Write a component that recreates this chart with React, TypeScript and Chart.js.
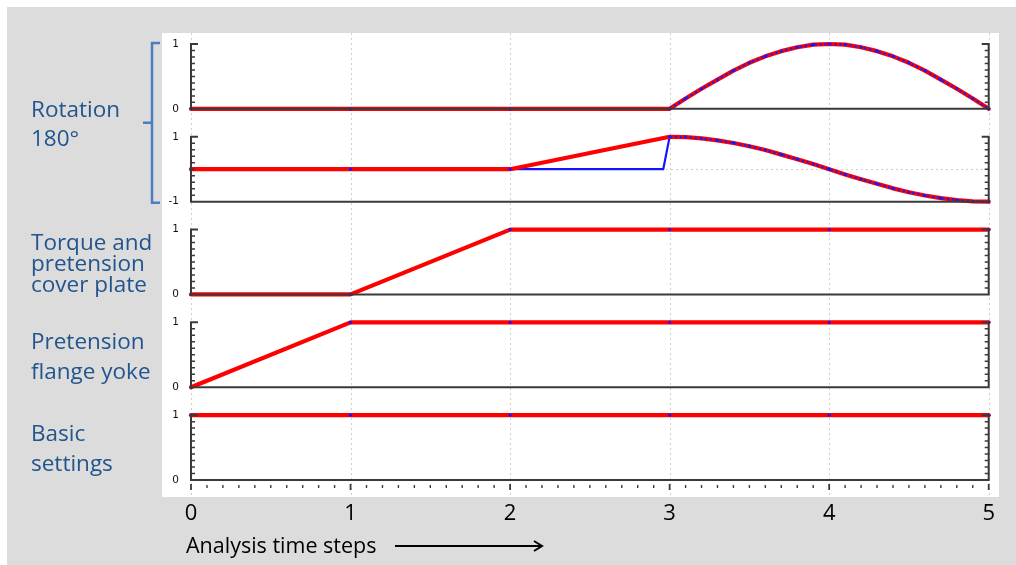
import React, { useEffect, useRef } from "react";
import { Chart, registerables } from "chart.js";

Chart.register(...registerables);

// ---------------- data ----------------
const TIME_TICKS = [0, 1, 2, 3, 4, 5];
const STEP_TIME = [0, 1, 2, 3, 4, 5];
const CURVE_TIME = [3.0, 3.1, 3.2, 3.3, 3.4, 3.5, 3.6, 3.7, 3.8, 3.9, 4.0, 4.1, 4.2, 4.3, 4.4, 4.5, 4.6, 4.7, 4.8, 4.9, 5.0];
const ROTATION_A_CURVE = [0, 0.16, 0.31, 0.45, 0.59, 0.71, 0.81, 0.89, 0.95, 0.99, 1.0, 0.99, 0.95, 0.89, 0.81, 0.71, 0.59, 0.45, 0.31, 0.16, 0];
const ROTATION_B_CURVE = [1.0, 0.99, 0.95, 0.89, 0.81, 0.71, 0.59, 0.45, 0.31, 0.16, 0, -0.16, -0.31, -0.45, -0.59, -0.71, -0.81, -0.89, -0.95, -0.99, -1.0];
const ROTATION_A_LEAD_TIME = [0, 1, 2];
const ROTATION_A_LEAD = [0, 0, 0];
const ROTATION_B_RED_LEAD_TIME = [0, 1, 2];
const ROTATION_B_RED_LEAD = [0, 0, 0];
const ROTATION_B_BLUE_LEAD_TIME = [0, 1, 2, 2.96];
const ROTATION_B_BLUE_LEAD = [0, 0, 0, 0];
const TORQUE_COVER_PLATE = [0, 0, 1, 1, 1, 1];
const PRETENSION_FLANGE_YOKE = [0, 1, 1, 1, 1, 1];
const BASIC_SETTINGS = [1, 1, 1, 1, 1, 1];
const PANEL_RANGES = [
  [0, 1],
  [-1, 1],
  [0, 1],
  [0, 1],
  [0, 1],
];
const GROUP_LABELS = [
  ["Rotation", "180°"],
  ["Torque and", "pretension", "cover plate"],
  ["Pretension", "flange yoke"],
  ["Basic", "settings"],
];
const X_TITLE = "Analysis time steps";

// ---------------- helpers ----------------
const zip = (xs: number[], ys: number[]) => xs.map((x, i) => ({ x, y: ys[i] }));
const PANEL_IDS = ["y1", "y2", "y3", "y4", "y5"];
const GAP = 28 / 65;
const RED = "#ff0000";
const BLUE = "#1414ff";
const AXIS = "#3a3a3a";

function redLine(yAxisID: string, data: any[]) {
  return {
    data,
    yAxisID,
    borderColor: RED,
    borderWidth: 4.2,
    pointRadius: 1.6,
    pointBackgroundColor: BLUE,
    pointBorderWidth: 0,
    borderCapStyle: "round",
    borderJoinStyle: "round",
    tension: 0,
    clip: false,
    order: 20,
  };
}
function blueLine(yAxisID: string, data: any[]) {
  return {
    data,
    yAxisID,
    borderColor: BLUE,
    borderWidth: 2.2,
    pointRadius: 0,
    tension: 0,
    clip: false,
    order: 30,
  };
}
function blueDots(yAxisID: string, data: any[]) {
  return {
    data,
    yAxisID,
    borderColor: "#2020e8",
    borderWidth: 2.2,
    borderDash: [2.5, 2.5],
    pointRadius: 0,
    tension: 0,
    clip: false,
    order: 10,
  };
}

const framePlugin = {
  id: "frames",
  beforeDraw(chart: any) {
    const ctx = chart.ctx;
    const xs = chart.scales.x;
    ctx.save();
    ctx.fillStyle = "#ffffff";
    ctx.fillRect(154, 25, 837, 464);
    // vertical dotted grid lines
    ctx.strokeStyle = "#cfcfcf";
    ctx.lineWidth = 1;
    ctx.setLineDash([2, 3]);
    TIME_TICKS.forEach((t) => {
      const px = Math.round(xs.getPixelForValue(t)) + 0.5;
      ctx.beginPath();
      ctx.moveTo(px, 25);
      ctx.lineTo(px, 489);
      ctx.stroke();
    });
    // zero line of rotation panel 2
    const y2 = chart.scales.y2;
    const zy = Math.round(y2.getPixelForValue(0)) + 0.5;
    ctx.beginPath();
    ctx.moveTo(xs.getPixelForValue(0), zy);
    ctx.lineTo(xs.getPixelForValue(5), zy);
    ctx.stroke();
    ctx.restore();
  },
  afterDatasetsDraw(chart: any) {
    const ctx = chart.ctx;
    const xs = chart.scales.x;
    const L = xs.getPixelForValue(0);
    const R = xs.getPixelForValue(5);
    ctx.save();
    ctx.strokeStyle = AXIS;
    ctx.setLineDash([]);
    PANEL_IDS.forEach((id, i) => {
      const ys = chart.scales[id];
      const [lo, hi] = PANEL_RANGES[i];
      const top = ys.getPixelForValue(hi);
      const bot = ys.getPixelForValue(lo);
      ctx.lineWidth = 2;
      ctx.beginPath();
      ctx.moveTo(L + 7, top);
      ctx.lineTo(L, top);
      ctx.lineTo(L, bot);
      ctx.lineTo(R, bot);
      ctx.lineTo(R, top);
      ctx.lineTo(R - 7, top);
      ctx.stroke();
      ctx.lineWidth = 1.5;
      for (let k = 1; k < 10; k++) {
        const y = top + ((bot - top) * k) / 10;
        ctx.beginPath();
        ctx.moveTo(L, y);
        ctx.lineTo(L + 4, y);
        ctx.moveTo(R, y);
        ctx.lineTo(R - 4, y);
        ctx.stroke();
      }
      if (i === PANEL_IDS.length - 1) {
        for (let k = 0; k <= 50; k++) {
          const x = xs.getPixelForValue(k / 10);
          const major = k % 10 === 0;
          ctx.lineWidth = major ? 1.8 : 1.4;
          ctx.beginPath();
          ctx.moveTo(x, bot + (major ? 4 : 5));
          ctx.lineTo(x, bot + (major ? 10 : 8));
          ctx.stroke();
        }
      }
    });
    ctx.restore();
  },
  afterDraw(chart: any) {
    const ctx = chart.ctx;
    const s = chart.scales;
    ctx.save();
    // left group labels
    const centers = [
      (s.y1.getPixelForValue(1) + s.y2.getPixelForValue(-1)) / 2,
      (s.y3.getPixelForValue(1) + s.y3.getPixelForValue(0)) / 2,
      (s.y4.getPixelForValue(1) + s.y4.getPixelForValue(0)) / 2,
      (s.y5.getPixelForValue(1) + s.y5.getPixelForValue(0)) / 2,
    ];
    const spacing = [29, 21, 30, 30];
    ctx.fillStyle = "#22558e";
    ctx.font = '22.5px "Open Sans"';
    ctx.textAlign = "left";
    ctx.textBaseline = "middle";
    GROUP_LABELS.forEach((lines, g) => {
      lines.forEach((txt, j) => {
        const y = centers[g] + 2.5 + (j - (lines.length - 1) / 2) * spacing[g];
        ctx.fillText(txt, 23, y);
      });
    });
    // bracket
    const bTop = s.y1.getPixelForValue(1) - 1;
    const bBot = s.y2.getPixelForValue(-1) + 1;
    const bMid = (bTop + bBot) / 2;
    const bx = 144;
    ctx.strokeStyle = "#4a7ebf";
    ctx.lineWidth = 2.5;
    ctx.beginPath();
    ctx.moveTo(bx + 8, bTop);
    ctx.lineTo(bx, bTop);
    ctx.lineTo(bx, bBot);
    ctx.lineTo(bx + 8, bBot);
    ctx.moveTo(bx, bMid);
    ctx.lineTo(bx - 9, bMid);
    ctx.stroke();
    // x title + arrow
    ctx.fillStyle = "#000";
    ctx.font = '21.5px "Open Sans"';
    ctx.fillText(X_TITLE, 178, 539);
    ctx.strokeStyle = "#000";
    ctx.lineWidth = 2;
    ctx.beginPath();
    ctx.moveTo(387, 538);
    ctx.lineTo(534, 538);
    ctx.moveTo(526, 533);
    ctx.lineTo(534, 538);
    ctx.lineTo(526, 543);
    ctx.stroke();
    ctx.restore();
  },
};

export default function App() {
  const ref = useRef<HTMLCanvasElement | null>(null);
  useEffect(() => {
    if (!ref.current) return;
    const yScales: any = {};
    PANEL_IDS.forEach((id, i) => {
      const [lo, hi] = PANEL_RANGES[i];
      const last = i === PANEL_IDS.length - 1;
      yScales[id] = {
        type: "linear",
        position: "left",
        stack: "panels",
        stackWeight: last ? 65 : 93,
        weight: PANEL_IDS.length - i,
        min: last ? lo : lo - (hi - lo) * GAP,
        max: hi,
        afterBuildTicks: (sc: any) => {
          sc.ticks = [{ value: lo }, { value: hi }];
        },
        afterFit: (sc: any) => {
          sc.width = 40;
        },
        ticks: {
          font: { family: "DejaVu Sans", size: 10.5 },
          color: "#111",
          padding: 12,
        },
        grid: { display: false, drawTicks: false },
        border: { display: false },
      };
    });
    const chart = new Chart(ref.current, {
      type: "line",
      data: {
        datasets: [
          blueDots("y1", zip(CURVE_TIME, ROTATION_A_CURVE)),
          redLine("y1", zip([...ROTATION_A_LEAD_TIME, ...CURVE_TIME], [...ROTATION_A_LEAD, ...ROTATION_A_CURVE])),
          blueLine("y1", zip([...ROTATION_A_LEAD_TIME, ...CURVE_TIME], [...ROTATION_A_LEAD, ...ROTATION_A_CURVE])),
          blueDots("y2", zip(CURVE_TIME, ROTATION_B_CURVE)),
          redLine("y2", zip([...ROTATION_B_RED_LEAD_TIME, ...CURVE_TIME], [...ROTATION_B_RED_LEAD, ...ROTATION_B_CURVE])),
          blueLine("y2", zip([...ROTATION_B_BLUE_LEAD_TIME, ...CURVE_TIME], [...ROTATION_B_BLUE_LEAD, ...ROTATION_B_CURVE])),
          redLine("y3", zip(STEP_TIME, TORQUE_COVER_PLATE)),
          redLine("y4", zip(STEP_TIME, PRETENSION_FLANGE_YOKE)),
          redLine("y5", zip(STEP_TIME, BASIC_SETTINGS)),
        ] as any,
      },
      options: {
        animation: false,
        responsive: false,
        events: [],
        layout: { padding: { left: 143, right: 27, top: 36, bottom: 35 } },
        plugins: { legend: { display: false }, tooltip: { enabled: false } },
        scales: {
          x: {
            type: "linear",
            position: "bottom",
            min: 0,
            max: 5,
            afterBuildTicks: (sc: any) => {
              sc.ticks = TIME_TICKS.map((v) => ({ value: v }));
            },
            afterFit: (sc: any) => {
              sc.height = 50;
            },
            ticks: {
              font: { family: "Open Sans", size: 22 },
              color: "#000",
              padding: 21,
              maxRotation: 0,
            },
            grid: { display: false, drawTicks: false },
            border: { display: false },
          },
          ...yScales,
        },
      } as any,
      plugins: [framePlugin],
    });
    return () => chart.destroy();
  }, []);
  return (
    <div
      style={{
        position: "fixed",
        left: 7,
        top: 7,
        right: 0,
        bottom: 0,
        background: "#dcdcdc",
        padding: 1,
        overflow: "hidden",
      }}
    >
      <canvas ref={ref} width={1008} height={557} style={{ display: "block" }} />
    </div>
  );
}
